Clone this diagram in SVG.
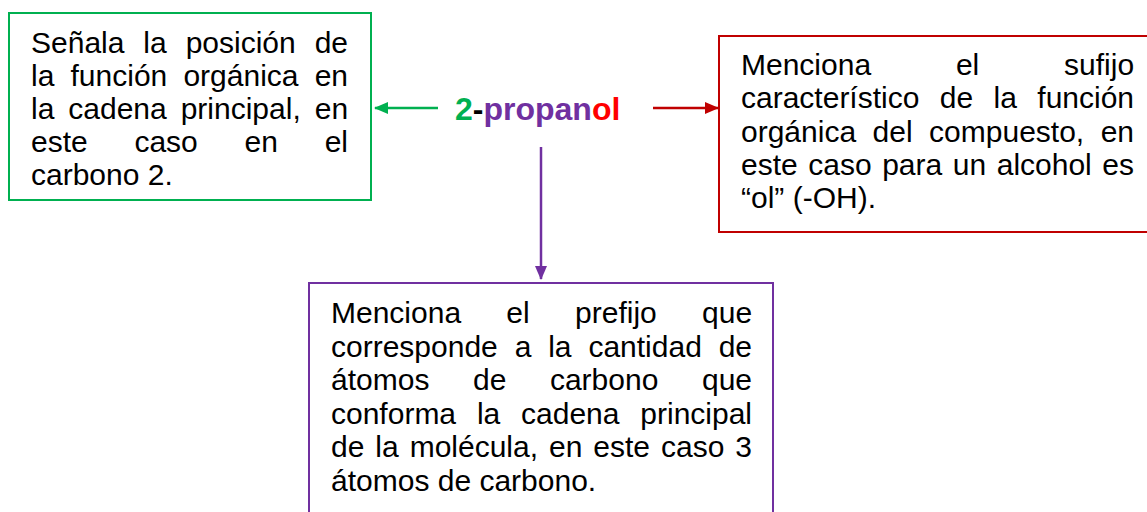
<svg xmlns="http://www.w3.org/2000/svg" width="1147" height="512" viewBox="0 0 1147 512">
<defs>
<style>
.t{font-family:"Liberation Sans",Arial,sans-serif;font-size:30px;fill:#000}
.box{fill:#fff;stroke-width:2}
.ttl{font-family:"Liberation Sans",Arial,sans-serif;font-size:32px;font-weight:bold}
</style>
<marker id="ag" markerUnits="userSpaceOnUse" markerWidth="14" markerHeight="12" refX="13" refY="6" orient="auto"><path d="M0,0 L14,6 L0,12 Z" fill="#00b050"/></marker>
<marker id="ar" markerUnits="userSpaceOnUse" markerWidth="14" markerHeight="12" refX="13" refY="6" orient="auto"><path d="M0,0 L14,6 L0,12 Z" fill="#c00000"/></marker>
<marker id="ap" markerUnits="userSpaceOnUse" markerWidth="14" markerHeight="12" refX="13" refY="6" orient="auto"><path d="M0,0 L14,6 L0,12 Z" fill="#7030a0"/></marker>
</defs>
<rect width="1147" height="512" fill="#fff"/>
<g id="connectors">
<line x1="438" y1="108" x2="375" y2="108" stroke="#00b050" stroke-width="2.5" marker-end="url(#ag)"/>
<line x1="653" y1="108" x2="718" y2="108" stroke="#c00000" stroke-width="2.5" marker-end="url(#ar)"/>
<line x1="541" y1="147" x2="541" y2="279" stroke="#7030a0" stroke-width="2.5" marker-end="url(#ap)"/>
</g>
<g id="title">
<text class="ttl" x="455" y="120"><tspan fill="#00b050">2</tspan><tspan fill="#000">-</tspan><tspan fill="#7030a0">propan</tspan><tspan fill="#ff0000">ol</tspan></text>
</g>
<g id="node-left">
<rect class="box" x="9" y="13" width="362" height="187" stroke="#00b050"/>
<text class="t" x="31" y="53" word-spacing="10.6">Señala la posición de</text>
<text class="t" x="31" y="86" word-spacing="7.83">la función orgánica en</text>
<text class="t" x="31" y="119" word-spacing="5.62">la cadena principal, en</text>
<text class="t" x="31" y="152" word-spacing="38.4">este caso en el</text>
<text class="t" x="31" y="185">carbono 2.</text>
</g>
<g id="node-right">
<rect class="box" x="719" y="36" width="440" height="196" stroke="#c00000"/>
<text class="t" x="741" y="75" word-spacing="76.5">Menciona el sufijo</text>
<text class="t" x="741" y="108.3" word-spacing="12.06">característico de la función</text>
<text class="t" x="741" y="141.6" word-spacing="8.16">orgánica del compuesto, en</text>
<text class="t" x="741" y="175" word-spacing="2.22">este caso para un alcohol es</text>
<text class="t" x="741" y="208.3">“ol” (-OH).</text>
</g>
<g id="node-bottom">
<rect class="box" x="309" y="283" width="464" height="250" stroke="#7030a0"/>
<text class="t" x="331" y="323" word-spacing="36.96">Menciona el prefijo que</text>
<text class="t" x="331" y="356.5" word-spacing="8.53">corresponde a la cantidad de</text>
<text class="t" x="331" y="390" word-spacing="35.26">átomos de carbono que</text>
<text class="t" x="331" y="423.5" word-spacing="12.49">conforma la cadena principal</text>
<text class="t" x="331" y="457" word-spacing="2.63">de la molécula, en este caso 3</text>
<text class="t" x="331" y="490.5">átomos de carbono.</text>
</g>
</svg>
